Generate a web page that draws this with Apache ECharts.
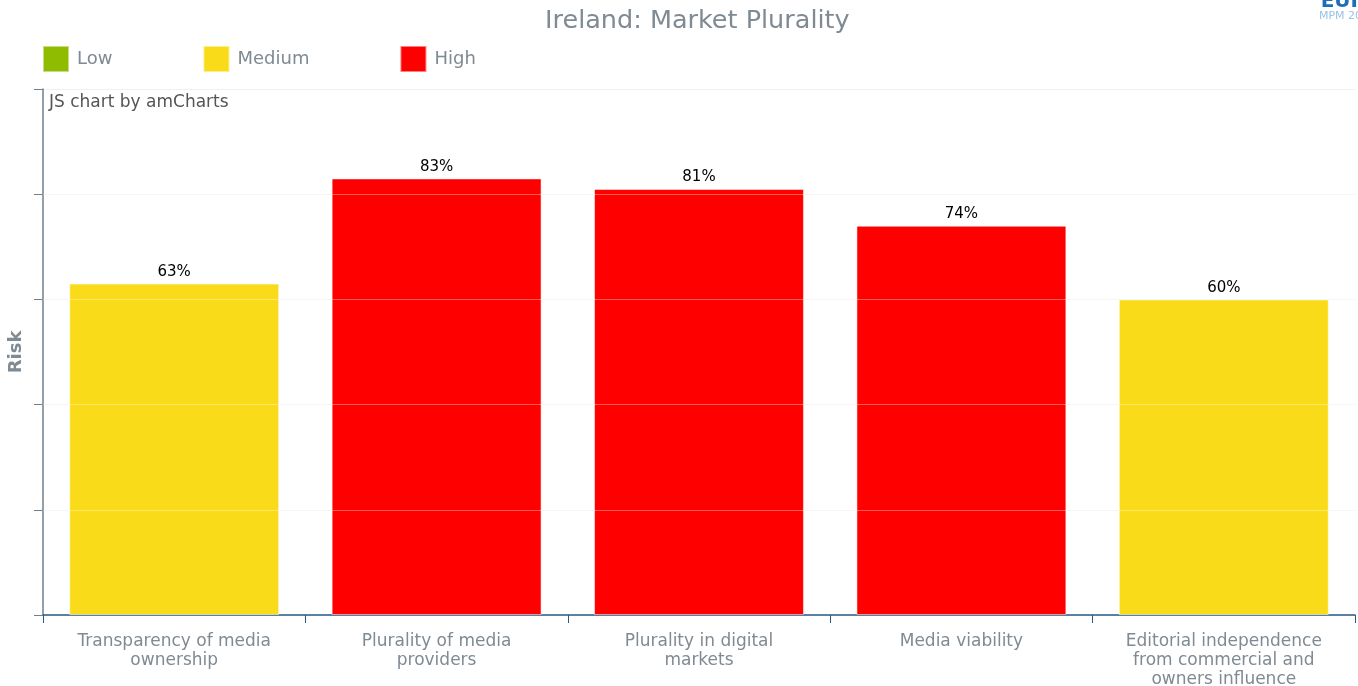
<!DOCTYPE html>
<html><head><meta charset="utf-8">
<script src="https://cdn.jsdelivr.net/npm/echarts@6/dist/echarts.min.js"></script>
<style>html,body{margin:0;padding:0;background:#fff}#c{width:1358px;height:686px}</style>
</head><body><div id="c"></div>
<script>
const categories = ['Transparency of media\nownership','Plurality of media\nproviders','Plurality in digital\nmarkets','Media viability','Editorial independence\nfrom commercial and\nowners influence'];
const values = [63, 83, 81, 74, 60];
const levels = ['Medium','High','High','High','Medium'];
const levelNames = ['Low','Medium','High'];
const levelColors = {Low:'#8fbc00', Medium:'#fadb19', High:'#ff0000'};
const yTicks = [0,20,40,60,80,100];

const font = 'DejaVu Sans, Verdana, sans-serif';
const series = levelNames.map(n => ({
  name: n, type: 'bar', stack: 'risk', barWidth: '80%',
  itemStyle: {color: levelColors[n], borderColor: 'rgba(255,255,255,0.5)', borderWidth: 1},
  label: {show: true, position: 'top', formatter: p => p.value + '%', color: '#000', fontSize: 15, fontFamily: font, distance: 4},
  data: values.map((v,i) => levels[i] === n ? v : null)
}));
series.push({
  type: 'line', data: [], silent: true,
  markLine: {symbol: 'none', silent: true, label: {show: false},
    lineStyle: {color: 'rgba(255,255,255,0.35)', type: 'solid', width: 1},
    data: yTicks.slice(1, -1).map(v => ({yAxis: v}))}
});

const chart = echarts.init(document.getElementById('c'));
chart.setOption({
  animation: false,
  title: {text: 'Ireland: Market Plurality', left: 545, top: 8, padding: 0,
    textStyle: {color: '#7f8a93', fontSize: 25.5, fontWeight: 'normal', fontFamily: font}},
  legend: {data: levelNames, left: 42, top: 45, padding: 0, itemWidth: 26, itemHeight: 26, itemGap: 90,
    icon: 'rect',
    textStyle: {color: '#7f8a93', fontSize: 18, fontFamily: font, padding: [0,0,0,3]}},
  grid: {left: 43, right: 3, top: 89, bottom: 71, outerBoundsMode: 'none', containLabel: false},
  xAxis: {type: 'category', data: categories,
    axisLine: {lineStyle: {color: '#2a5a82', width: 1.5}},
    axisTick: {show: true, length: 8, lineStyle: {color: '#2a5a82'}},
    axisLabel: {color: '#7f8a93', fontSize: 17, fontFamily: font, lineHeight: 19, margin: 17, interval: 0}},
  yAxis: {type: 'value', min: yTicks[0], max: yTicks[yTicks.length-1], interval: 20,
    name: 'Risk', nameLocation: 'middle', nameGap: 18,
    nameTextStyle: {color: '#7f8a93', fontSize: 18, fontWeight: 'bold', fontFamily: font},
    axisLine: {show: true, lineStyle: {color: '#6f808e', width: 1.5}},
    axisTick: {show: true, length: 9, lineStyle: {color: '#6f808e'}},
    axisLabel: {show: false},
    splitLine: {lineStyle: {color: '#f0f0f0'}}},
  graphic: [
    {type: 'text', left: 49, top: 94, style: {text: 'JS chart by amCharts', fill: '#555', fontSize: 17, fontFamily: font}},
    {type: 'text', right: 0, top: -8, style: {text: 'EUI', fill: '#1f6eb5', fontSize: 20, fontWeight: 'bold', fontFamily: font}},
    {type: 'text', right: -4, top: 11, style: {text: 'MPM 20', fill: '#9cc3e6', fontSize: 11, fontFamily: font}}
  ],
  series: series
});
</script></body></html>
